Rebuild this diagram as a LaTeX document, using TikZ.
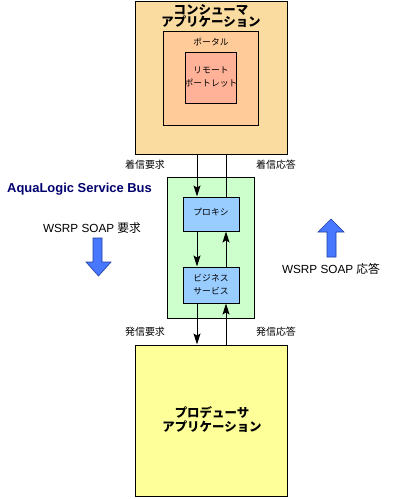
\documentclass[tikz,border=0pt]{standalone}
\usepackage{fontspec}
\setmainfont{Liberation Sans}
\newfontfamily\jp{Noto Sans CJK JP}
\usetikzlibrary{arrows.meta}
\definecolor{consumerc}{RGB}{250,220,160}
\definecolor{portalc}{RGB}{255,204,153}
\definecolor{portletc}{RGB}{255,178,152}
\definecolor{busc}{RGB}{204,255,204}
\definecolor{svcc}{RGB}{153,204,255}
\definecolor{producerc}{RGB}{255,255,153}
\definecolor{bigarrow}{RGB}{72,120,255}
\definecolor{bigarrowline}{RGB}{30,60,160}
\definecolor{navy}{RGB}{0,0,110}
\begin{document}
\begin{tikzpicture}[x=1bp,y=-1bp,
  box/.style={draw=black, line width=1bp, inner sep=0pt, anchor=center},
  titletxt/.style={font={\jp\bfseries\fontsize{12.5}{12}\selectfont}, align=center, inner sep=0pt},
  smalltxt/.style={font={\jp\fontsize{8.8}{12.5}\selectfont}, align=center, inner sep=0pt},
  labeltxt/.style={font={\jp\fontsize{10}{12}\selectfont}, inner sep=0pt},
  flow/.style={draw=black, line width=1bp},
  arr/.style={flow, -{Stealth[width=7bp,length=11bp,inset=2bp]}},
  blockarrow/.style={fill=bigarrow, draw=bigarrowline, line width=0.6bp, line join=miter}
]
\useasboundingbox (0,0) rectangle (419,499);
\fill[white] (0,0) rectangle (419,499);

% columns for the two flows
\coordinate (L) at (197,0);
\coordinate (R) at (226,0);

% consumer application
\node[box, fill=consumerc, minimum width=152bp, minimum height=152bp] (cons) at (211,78) {};
\node[titletxt] (constxt) at (211,16) {コンシューマ\\アプリケーション};
\node[box, fill=portalc, minimum width=95bp, minimum height=94bp] (portal) at (210.5,79) {};
\node[smalltxt] (portaltxt) at (211,42) {ポータル};
\node[box, fill=portletc, minimum width=51bp, minimum height=51bp] (portlet) at (210.5,78.5) {};
\node[smalltxt] (portlettxt) at (211,77) {リモート\\ポートレット};

% service bus
\node[box, fill=busc, minimum width=87bp, minimum height=140bp] (bus) at (210.5,248) {};
\node[box, fill=svcc, minimum width=56bp, minimum height=34bp] (proxy) at (211,214) {};
\node[smalltxt] (proxytxt) at (211,212) {プロキシ};
\node[box, fill=svcc, minimum width=56bp, minimum height=36bp] (bsvc) at (211,285) {};
\node[smalltxt] (bsvctxt) at (211,284.5) {ビジネス\\サービス};
\node[anchor=west, inner sep=0pt, text=navy, font={\bfseries\fontsize{13}{14}\selectfont}] (albl) at (7,189) {AquaLogic Service Bus};

% producer application
\node[box, fill=producerc, minimum width=152bp, minimum height=151bp] (prod) at (211,420.5) {};
\node[titletxt, font={\jp\bfseries\fontsize{12.5}{14}\selectfont}] (prodtxt) at (212,420) {プロデューサ\\アプリケーション};

% flows
\draw[arr] (cons.south -| L) -- (proxy.north -| L);
\draw[flow] (proxy.north -| R) -- (cons.south -| R);
\draw[arr] (proxy.south -| L) -- (bsvc.north -| L);
\draw[arr] (bsvc.north -| R) -- (proxy.south -| R);
\draw[arr] (bsvc.south -| L) -- (prod.north -| L);
\draw[arr] (prod.north -| R) -- (bsvc.south -| R);

% flow labels
\node[labeltxt] (inreq) at (145,165) {着信要求};
\node[labeltxt] (inres) at (276,165) {着信応答};
\node[labeltxt] (outreq) at (145,332) {発信要求};
\node[labeltxt] (outres) at (276,332) {発信応答};

% big arrows
\node[inner sep=0pt, font={\fontsize{11.8}{13}\selectfont}] (reqlbl) at (92,228) {WSRP SOAP {\jp 要求}};
\node[inner sep=0pt, font={\fontsize{11.8}{13}\selectfont}] (reslbl) at (331,269) {WSRP SOAP {\jp 応答}};
\draw[blockarrow] (93,238) -- (102,238) -- (102,262) -- (111,262) -- (98.5,276) -- (86,262) -- (93,262) -- cycle;
\draw[blockarrow] (327,257) -- (336,257) -- (336,232) -- (344,232) -- (331,219) -- (318,232) -- (327,232) -- cycle;
\end{tikzpicture}
\end{document}
